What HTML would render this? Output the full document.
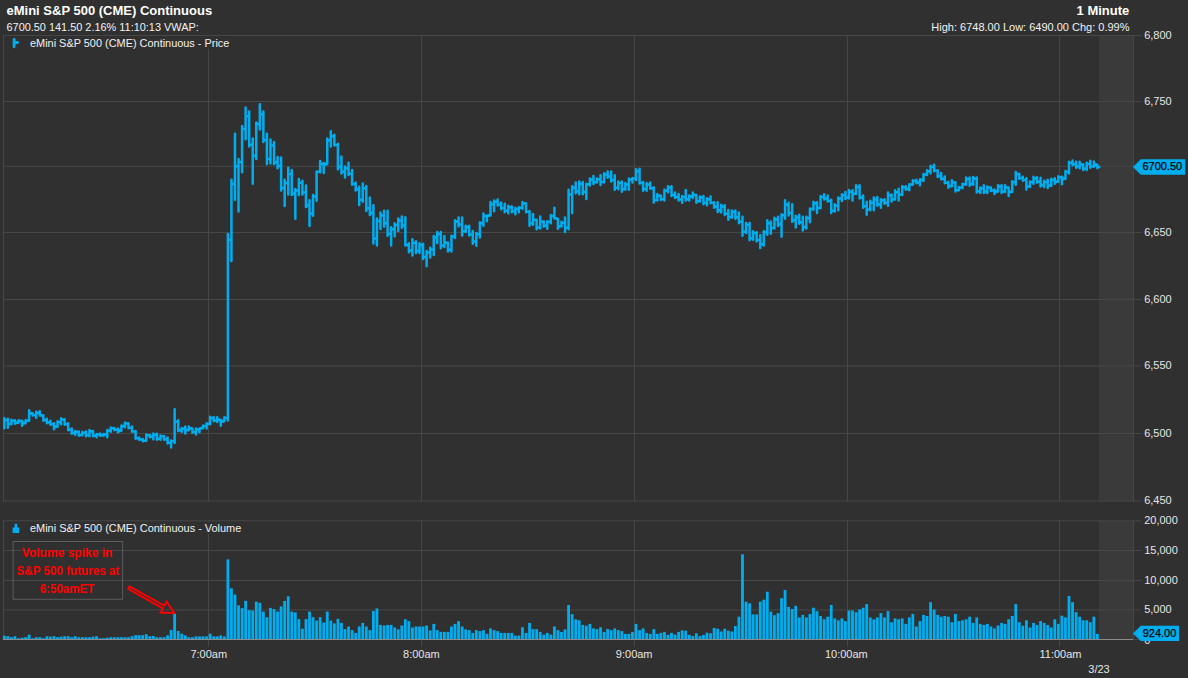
<!DOCTYPE html>
<html lang="en"><head><meta charset="utf-8"><title>eMini S&amp;P 500 (CME) Continuous</title>
<style>html,body{margin:0;padding:0;background:#303030;overflow:hidden}svg{display:block}text{font-family:"Liberation Sans", Arial, sans-serif}</style></head><body>
<svg width="1188" height="678" viewBox="0 0 1188 678">
<rect width="1188" height="678" fill="#303030"/>
<rect x="1099" y="36" width="34" height="465" fill="#3a3a3a"/>
<rect x="1099" y="521" width="34" height="118.5" fill="#3a3a3a"/>
<g stroke="#474747" stroke-width="1" fill="none">
<line x1="3" y1="35.5" x2="1141" y2="35.5"/>
<line x1="3" y1="101.5" x2="1141" y2="101.5"/>
<line x1="3" y1="166.3" x2="1141" y2="166.3"/>
<line x1="3" y1="232.5" x2="1141" y2="232.5"/>
<line x1="3" y1="299.5" x2="1141" y2="299.5"/>
<line x1="3" y1="366.0" x2="1141" y2="366.0"/>
<line x1="3" y1="433.5" x2="1141" y2="433.5"/>
<line x1="3" y1="501.0" x2="1141" y2="501.0"/>
<line x1="208.5" y1="35.5" x2="208.5" y2="501"/>
<line x1="208.5" y1="520.5" x2="208.5" y2="646.3"/>
<line x1="421.5" y1="35.5" x2="421.5" y2="501"/>
<line x1="421.5" y1="520.5" x2="421.5" y2="646.3"/>
<line x1="634.5" y1="35.5" x2="634.5" y2="501"/>
<line x1="634.5" y1="520.5" x2="634.5" y2="646.3"/>
<line x1="847.5" y1="35.5" x2="847.5" y2="501"/>
<line x1="847.5" y1="520.5" x2="847.5" y2="646.3"/>
<line x1="1059.5" y1="35.5" x2="1059.5" y2="501"/>
<line x1="1059.5" y1="520.5" x2="1059.5" y2="646.3"/>
<line x1="1133" y1="639.5" x2="1141" y2="639.5"/>
<line x1="3" y1="520.8" x2="1141" y2="520.8"/>
<line x1="3" y1="550.5" x2="1141" y2="550.5"/>
<line x1="3" y1="580.5" x2="1141" y2="580.5"/>
<line x1="3" y1="609.9" x2="1141" y2="609.9"/>
<line x1="3.5" y1="35" x2="3.5" y2="501.8"/>
<line x1="1133.5" y1="35" x2="1133.5" y2="501.8"/>
<line x1="3.5" y1="520.3" x2="3.5" y2="640"/>
<line x1="1133.5" y1="520.3" x2="1133.5" y2="640"/>
</g>
<g fill="#00aeef">
<rect x="2.90" y="635.70" width="2.8" height="3.50"/>
<rect x="6.45" y="636.20" width="2.8" height="3.00"/>
<rect x="10.00" y="637.20" width="2.8" height="2.00"/>
<rect x="13.55" y="636.20" width="2.8" height="3.00"/>
<rect x="17.10" y="638.20" width="2.8" height="1.00"/>
<rect x="20.65" y="637.70" width="2.8" height="1.50"/>
<rect x="24.19" y="637.20" width="2.8" height="2.00"/>
<rect x="27.74" y="634.70" width="2.8" height="4.50"/>
<rect x="31.29" y="638.20" width="2.8" height="1.00"/>
<rect x="34.84" y="637.20" width="2.8" height="2.00"/>
<rect x="38.39" y="637.20" width="2.8" height="2.00"/>
<rect x="41.94" y="638.20" width="2.8" height="1.00"/>
<rect x="45.49" y="636.20" width="2.8" height="3.00"/>
<rect x="49.04" y="636.70" width="2.8" height="2.50"/>
<rect x="52.59" y="636.20" width="2.8" height="3.00"/>
<rect x="56.13" y="637.20" width="2.8" height="2.00"/>
<rect x="59.68" y="636.70" width="2.8" height="2.50"/>
<rect x="63.23" y="636.20" width="2.8" height="3.00"/>
<rect x="66.78" y="636.20" width="2.8" height="3.00"/>
<rect x="70.33" y="637.20" width="2.8" height="2.00"/>
<rect x="73.88" y="636.20" width="2.8" height="3.00"/>
<rect x="77.43" y="637.20" width="2.8" height="2.00"/>
<rect x="80.98" y="637.20" width="2.8" height="2.00"/>
<rect x="84.53" y="637.20" width="2.8" height="2.00"/>
<rect x="88.08" y="637.20" width="2.8" height="2.00"/>
<rect x="91.62" y="636.70" width="2.8" height="2.50"/>
<rect x="95.17" y="636.20" width="2.8" height="3.00"/>
<rect x="98.72" y="638.20" width="2.8" height="1.00"/>
<rect x="102.27" y="638.20" width="2.8" height="1.00"/>
<rect x="105.82" y="637.70" width="2.8" height="1.50"/>
<rect x="109.37" y="637.20" width="2.8" height="2.00"/>
<rect x="112.92" y="637.20" width="2.8" height="2.00"/>
<rect x="116.47" y="637.20" width="2.8" height="2.00"/>
<rect x="120.02" y="637.20" width="2.8" height="2.00"/>
<rect x="123.57" y="637.20" width="2.8" height="2.00"/>
<rect x="127.12" y="637.20" width="2.8" height="2.00"/>
<rect x="130.66" y="636.20" width="2.8" height="3.00"/>
<rect x="134.21" y="635.20" width="2.8" height="4.00"/>
<rect x="137.76" y="635.20" width="2.8" height="4.00"/>
<rect x="141.31" y="635.20" width="2.8" height="4.00"/>
<rect x="144.86" y="634.20" width="2.8" height="5.00"/>
<rect x="148.41" y="636.20" width="2.8" height="3.00"/>
<rect x="151.96" y="636.00" width="2.8" height="3.20"/>
<rect x="155.51" y="637.20" width="2.8" height="2.00"/>
<rect x="159.06" y="637.20" width="2.8" height="2.00"/>
<rect x="162.60" y="637.20" width="2.8" height="2.00"/>
<rect x="166.15" y="635.40" width="2.8" height="3.80"/>
<rect x="169.70" y="629.90" width="2.8" height="9.30"/>
<rect x="173.25" y="613.90" width="2.8" height="25.30"/>
<rect x="176.80" y="630.90" width="2.8" height="8.30"/>
<rect x="180.35" y="633.70" width="2.8" height="5.50"/>
<rect x="183.90" y="635.40" width="2.8" height="3.80"/>
<rect x="187.45" y="637.20" width="2.8" height="2.00"/>
<rect x="191.00" y="637.20" width="2.8" height="2.00"/>
<rect x="194.55" y="636.40" width="2.8" height="2.80"/>
<rect x="198.09" y="636.40" width="2.8" height="2.80"/>
<rect x="201.64" y="636.40" width="2.8" height="2.80"/>
<rect x="205.19" y="636.40" width="2.8" height="2.80"/>
<rect x="208.74" y="633.70" width="2.8" height="5.50"/>
<rect x="212.29" y="636.40" width="2.8" height="2.80"/>
<rect x="215.84" y="636.40" width="2.8" height="2.80"/>
<rect x="219.39" y="635.40" width="2.8" height="3.80"/>
<rect x="222.94" y="636.40" width="2.8" height="2.80"/>
<rect x="226.49" y="559.40" width="2.8" height="79.80"/>
<rect x="230.04" y="588.40" width="2.8" height="50.80"/>
<rect x="233.59" y="594.60" width="2.8" height="44.60"/>
<rect x="237.13" y="605.40" width="2.8" height="33.80"/>
<rect x="240.68" y="608.20" width="2.8" height="31.00"/>
<rect x="244.23" y="600.80" width="2.8" height="38.40"/>
<rect x="247.78" y="610.10" width="2.8" height="29.10"/>
<rect x="251.33" y="610.50" width="2.8" height="28.70"/>
<rect x="254.88" y="601.70" width="2.8" height="37.50"/>
<rect x="258.43" y="602.80" width="2.8" height="36.40"/>
<rect x="261.98" y="611.60" width="2.8" height="27.60"/>
<rect x="265.53" y="617.20" width="2.8" height="22.00"/>
<rect x="269.08" y="607.90" width="2.8" height="31.30"/>
<rect x="272.62" y="609.00" width="2.8" height="30.20"/>
<rect x="276.17" y="611.60" width="2.8" height="27.60"/>
<rect x="279.72" y="606.40" width="2.8" height="32.80"/>
<rect x="283.27" y="600.90" width="2.8" height="38.30"/>
<rect x="286.82" y="596.30" width="2.8" height="42.90"/>
<rect x="290.37" y="611.60" width="2.8" height="27.60"/>
<rect x="293.92" y="612.40" width="2.8" height="26.80"/>
<rect x="297.47" y="619.10" width="2.8" height="20.10"/>
<rect x="301.02" y="628.70" width="2.8" height="10.50"/>
<rect x="304.57" y="619.10" width="2.8" height="20.10"/>
<rect x="308.11" y="611.60" width="2.8" height="27.60"/>
<rect x="311.66" y="617.20" width="2.8" height="22.00"/>
<rect x="315.21" y="620.60" width="2.8" height="18.60"/>
<rect x="318.76" y="617.20" width="2.8" height="22.00"/>
<rect x="322.31" y="622.50" width="2.8" height="16.70"/>
<rect x="325.86" y="611.60" width="2.8" height="27.60"/>
<rect x="329.41" y="620.60" width="2.8" height="18.60"/>
<rect x="332.96" y="623.40" width="2.8" height="15.80"/>
<rect x="336.51" y="618.80" width="2.8" height="20.40"/>
<rect x="340.06" y="622.90" width="2.8" height="16.30"/>
<rect x="343.60" y="629.10" width="2.8" height="10.10"/>
<rect x="347.15" y="626.50" width="2.8" height="12.70"/>
<rect x="350.70" y="630.10" width="2.8" height="9.10"/>
<rect x="354.25" y="632.90" width="2.8" height="6.30"/>
<rect x="357.80" y="626.50" width="2.8" height="12.70"/>
<rect x="361.35" y="622.90" width="2.8" height="16.30"/>
<rect x="364.90" y="626.50" width="2.8" height="12.70"/>
<rect x="368.45" y="630.10" width="2.8" height="9.10"/>
<rect x="372.00" y="611.00" width="2.8" height="28.20"/>
<rect x="375.55" y="608.40" width="2.8" height="30.80"/>
<rect x="379.09" y="624.90" width="2.8" height="14.30"/>
<rect x="382.64" y="625.50" width="2.8" height="13.70"/>
<rect x="386.19" y="624.90" width="2.8" height="14.30"/>
<rect x="389.74" y="624.90" width="2.8" height="14.30"/>
<rect x="393.29" y="627.50" width="2.8" height="11.70"/>
<rect x="396.84" y="629.40" width="2.8" height="9.80"/>
<rect x="400.39" y="625.50" width="2.8" height="13.70"/>
<rect x="403.94" y="619.30" width="2.8" height="19.90"/>
<rect x="407.49" y="621.10" width="2.8" height="18.10"/>
<rect x="411.04" y="627.50" width="2.8" height="11.70"/>
<rect x="414.58" y="626.50" width="2.8" height="12.70"/>
<rect x="418.13" y="626.50" width="2.8" height="12.70"/>
<rect x="421.68" y="626.50" width="2.8" height="12.70"/>
<rect x="425.23" y="625.50" width="2.8" height="13.70"/>
<rect x="428.78" y="630.40" width="2.8" height="8.80"/>
<rect x="432.33" y="623.90" width="2.8" height="15.30"/>
<rect x="435.88" y="630.10" width="2.8" height="9.10"/>
<rect x="439.43" y="631.90" width="2.8" height="7.30"/>
<rect x="442.98" y="631.90" width="2.8" height="7.30"/>
<rect x="446.53" y="631.90" width="2.8" height="7.30"/>
<rect x="450.07" y="626.50" width="2.8" height="12.70"/>
<rect x="453.62" y="623.90" width="2.8" height="15.30"/>
<rect x="457.17" y="621.10" width="2.8" height="18.10"/>
<rect x="460.72" y="626.50" width="2.8" height="12.70"/>
<rect x="464.27" y="629.40" width="2.8" height="9.80"/>
<rect x="467.82" y="630.10" width="2.8" height="9.10"/>
<rect x="471.37" y="632.90" width="2.8" height="6.30"/>
<rect x="474.92" y="630.10" width="2.8" height="9.10"/>
<rect x="478.47" y="631.10" width="2.8" height="8.10"/>
<rect x="482.02" y="630.10" width="2.8" height="9.10"/>
<rect x="485.56" y="633.90" width="2.8" height="5.30"/>
<rect x="489.11" y="628.40" width="2.8" height="10.80"/>
<rect x="492.66" y="630.10" width="2.8" height="9.10"/>
<rect x="496.21" y="631.10" width="2.8" height="8.10"/>
<rect x="499.76" y="632.90" width="2.8" height="6.30"/>
<rect x="503.31" y="632.90" width="2.8" height="6.30"/>
<rect x="506.86" y="632.90" width="2.8" height="6.30"/>
<rect x="510.41" y="632.90" width="2.8" height="6.30"/>
<rect x="513.96" y="635.60" width="2.8" height="3.60"/>
<rect x="517.50" y="635.60" width="2.8" height="3.60"/>
<rect x="521.05" y="627.30" width="2.8" height="11.90"/>
<rect x="524.60" y="632.90" width="2.8" height="6.30"/>
<rect x="528.15" y="622.90" width="2.8" height="16.30"/>
<rect x="531.70" y="629.10" width="2.8" height="10.10"/>
<rect x="535.25" y="629.10" width="2.8" height="10.10"/>
<rect x="538.80" y="631.90" width="2.8" height="7.30"/>
<rect x="542.35" y="634.60" width="2.8" height="4.60"/>
<rect x="545.90" y="632.90" width="2.8" height="6.30"/>
<rect x="549.45" y="634.60" width="2.8" height="4.60"/>
<rect x="553.00" y="626.50" width="2.8" height="12.70"/>
<rect x="556.54" y="630.10" width="2.8" height="9.10"/>
<rect x="560.09" y="631.90" width="2.8" height="7.30"/>
<rect x="563.64" y="629.40" width="2.8" height="9.80"/>
<rect x="567.19" y="605.00" width="2.8" height="34.20"/>
<rect x="570.74" y="614.10" width="2.8" height="25.10"/>
<rect x="574.29" y="619.30" width="2.8" height="19.90"/>
<rect x="577.84" y="620.30" width="2.8" height="18.90"/>
<rect x="581.39" y="624.90" width="2.8" height="14.30"/>
<rect x="584.94" y="625.70" width="2.8" height="13.50"/>
<rect x="588.49" y="623.90" width="2.8" height="15.30"/>
<rect x="592.03" y="628.40" width="2.8" height="10.80"/>
<rect x="595.58" y="629.10" width="2.8" height="10.10"/>
<rect x="599.13" y="627.30" width="2.8" height="11.90"/>
<rect x="602.68" y="631.90" width="2.8" height="7.30"/>
<rect x="606.23" y="629.10" width="2.8" height="10.10"/>
<rect x="609.78" y="630.10" width="2.8" height="9.10"/>
<rect x="613.33" y="628.40" width="2.8" height="10.80"/>
<rect x="616.88" y="630.10" width="2.8" height="9.10"/>
<rect x="620.43" y="631.10" width="2.8" height="8.10"/>
<rect x="623.97" y="633.90" width="2.8" height="5.30"/>
<rect x="627.52" y="633.90" width="2.8" height="5.30"/>
<rect x="631.07" y="631.90" width="2.8" height="7.30"/>
<rect x="634.62" y="623.90" width="2.8" height="15.30"/>
<rect x="638.17" y="630.10" width="2.8" height="9.10"/>
<rect x="641.72" y="628.40" width="2.8" height="10.80"/>
<rect x="645.27" y="632.90" width="2.8" height="6.30"/>
<rect x="648.82" y="633.90" width="2.8" height="5.30"/>
<rect x="652.37" y="629.10" width="2.8" height="10.10"/>
<rect x="655.92" y="633.90" width="2.8" height="5.30"/>
<rect x="659.46" y="632.90" width="2.8" height="6.30"/>
<rect x="663.01" y="631.90" width="2.8" height="7.30"/>
<rect x="666.56" y="634.80" width="2.8" height="4.40"/>
<rect x="670.11" y="632.90" width="2.8" height="6.30"/>
<rect x="673.66" y="634.60" width="2.8" height="4.60"/>
<rect x="677.21" y="631.90" width="2.8" height="7.30"/>
<rect x="680.76" y="630.40" width="2.8" height="8.80"/>
<rect x="684.31" y="630.70" width="2.8" height="8.50"/>
<rect x="687.86" y="634.90" width="2.8" height="4.30"/>
<rect x="691.41" y="636.10" width="2.8" height="3.10"/>
<rect x="694.95" y="633.30" width="2.8" height="5.90"/>
<rect x="698.50" y="636.10" width="2.8" height="3.10"/>
<rect x="702.05" y="634.90" width="2.8" height="4.30"/>
<rect x="705.60" y="632.70" width="2.8" height="6.50"/>
<rect x="709.15" y="633.30" width="2.8" height="5.90"/>
<rect x="712.70" y="628.00" width="2.8" height="11.20"/>
<rect x="716.25" y="628.70" width="2.8" height="10.50"/>
<rect x="719.80" y="631.50" width="2.8" height="7.70"/>
<rect x="723.35" y="628.70" width="2.8" height="10.50"/>
<rect x="726.90" y="630.70" width="2.8" height="8.50"/>
<rect x="730.44" y="631.50" width="2.8" height="7.70"/>
<rect x="733.99" y="626.00" width="2.8" height="13.20"/>
<rect x="737.54" y="616.70" width="2.8" height="22.50"/>
<rect x="741.09" y="554.30" width="2.8" height="84.90"/>
<rect x="744.64" y="601.70" width="2.8" height="37.50"/>
<rect x="748.19" y="603.30" width="2.8" height="35.90"/>
<rect x="751.74" y="614.40" width="2.8" height="24.80"/>
<rect x="755.29" y="614.40" width="2.8" height="24.80"/>
<rect x="758.84" y="601.70" width="2.8" height="37.50"/>
<rect x="762.39" y="599.70" width="2.8" height="39.50"/>
<rect x="765.93" y="591.70" width="2.8" height="47.50"/>
<rect x="769.48" y="611.60" width="2.8" height="27.60"/>
<rect x="773.03" y="615.20" width="2.8" height="24.00"/>
<rect x="776.58" y="613.20" width="2.8" height="26.00"/>
<rect x="780.13" y="598.20" width="2.8" height="41.00"/>
<rect x="783.68" y="590.00" width="2.8" height="49.20"/>
<rect x="787.23" y="607.00" width="2.8" height="32.20"/>
<rect x="790.78" y="609.00" width="2.8" height="30.20"/>
<rect x="794.33" y="605.80" width="2.8" height="33.40"/>
<rect x="797.88" y="617.40" width="2.8" height="21.80"/>
<rect x="801.42" y="614.90" width="2.8" height="24.30"/>
<rect x="804.97" y="617.40" width="2.8" height="21.80"/>
<rect x="808.52" y="613.90" width="2.8" height="25.30"/>
<rect x="812.07" y="607.70" width="2.8" height="31.50"/>
<rect x="815.62" y="611.20" width="2.8" height="28.00"/>
<rect x="819.17" y="616.00" width="2.8" height="23.20"/>
<rect x="822.72" y="619.30" width="2.8" height="19.90"/>
<rect x="826.27" y="616.70" width="2.8" height="22.50"/>
<rect x="829.82" y="605.00" width="2.8" height="34.20"/>
<rect x="833.37" y="618.40" width="2.8" height="20.80"/>
<rect x="836.91" y="620.30" width="2.8" height="18.90"/>
<rect x="840.46" y="618.40" width="2.8" height="20.80"/>
<rect x="844.01" y="621.10" width="2.8" height="18.10"/>
<rect x="847.56" y="610.50" width="2.8" height="28.70"/>
<rect x="851.11" y="610.50" width="2.8" height="28.70"/>
<rect x="854.66" y="612.20" width="2.8" height="27.00"/>
<rect x="858.21" y="609.50" width="2.8" height="29.70"/>
<rect x="861.76" y="607.70" width="2.8" height="31.50"/>
<rect x="865.31" y="604.10" width="2.8" height="35.10"/>
<rect x="868.86" y="617.40" width="2.8" height="21.80"/>
<rect x="872.40" y="619.30" width="2.8" height="19.90"/>
<rect x="875.95" y="617.40" width="2.8" height="21.80"/>
<rect x="879.50" y="613.10" width="2.8" height="26.10"/>
<rect x="883.05" y="617.40" width="2.8" height="21.80"/>
<rect x="886.60" y="611.20" width="2.8" height="28.00"/>
<rect x="890.15" y="622.20" width="2.8" height="17.00"/>
<rect x="893.70" y="618.40" width="2.8" height="20.80"/>
<rect x="897.25" y="619.30" width="2.8" height="19.90"/>
<rect x="900.80" y="618.40" width="2.8" height="20.80"/>
<rect x="904.35" y="623.90" width="2.8" height="15.30"/>
<rect x="907.89" y="617.40" width="2.8" height="21.80"/>
<rect x="911.44" y="613.90" width="2.8" height="25.30"/>
<rect x="914.99" y="626.50" width="2.8" height="12.70"/>
<rect x="918.54" y="621.10" width="2.8" height="18.10"/>
<rect x="922.09" y="614.90" width="2.8" height="24.30"/>
<rect x="925.64" y="616.00" width="2.8" height="23.20"/>
<rect x="929.19" y="602.20" width="2.8" height="37.00"/>
<rect x="932.74" y="609.50" width="2.8" height="29.70"/>
<rect x="936.29" y="614.90" width="2.8" height="24.30"/>
<rect x="939.84" y="616.70" width="2.8" height="22.50"/>
<rect x="943.38" y="616.00" width="2.8" height="23.20"/>
<rect x="946.93" y="616.70" width="2.8" height="22.50"/>
<rect x="950.48" y="622.20" width="2.8" height="17.00"/>
<rect x="954.03" y="613.90" width="2.8" height="25.30"/>
<rect x="957.58" y="621.10" width="2.8" height="18.10"/>
<rect x="961.13" y="620.30" width="2.8" height="18.90"/>
<rect x="964.68" y="619.30" width="2.8" height="19.90"/>
<rect x="968.23" y="616.70" width="2.8" height="22.50"/>
<rect x="971.78" y="622.90" width="2.8" height="16.30"/>
<rect x="975.33" y="617.40" width="2.8" height="21.80"/>
<rect x="978.88" y="623.90" width="2.8" height="15.30"/>
<rect x="982.42" y="624.90" width="2.8" height="14.30"/>
<rect x="985.97" y="623.90" width="2.8" height="15.30"/>
<rect x="989.52" y="626.50" width="2.8" height="12.70"/>
<rect x="993.07" y="628.40" width="2.8" height="10.80"/>
<rect x="996.62" y="625.50" width="2.8" height="13.70"/>
<rect x="1000.17" y="622.90" width="2.8" height="16.30"/>
<rect x="1003.72" y="623.90" width="2.8" height="15.30"/>
<rect x="1007.27" y="619.30" width="2.8" height="19.90"/>
<rect x="1010.82" y="616.00" width="2.8" height="23.20"/>
<rect x="1014.37" y="604.10" width="2.8" height="35.10"/>
<rect x="1017.91" y="622.20" width="2.8" height="17.00"/>
<rect x="1021.46" y="625.70" width="2.8" height="13.50"/>
<rect x="1025.01" y="620.30" width="2.8" height="18.90"/>
<rect x="1028.56" y="627.50" width="2.8" height="11.70"/>
<rect x="1032.11" y="622.90" width="2.8" height="16.30"/>
<rect x="1035.66" y="624.90" width="2.8" height="14.30"/>
<rect x="1039.21" y="621.10" width="2.8" height="18.10"/>
<rect x="1042.76" y="622.90" width="2.8" height="16.30"/>
<rect x="1046.31" y="624.90" width="2.8" height="14.30"/>
<rect x="1049.85" y="627.50" width="2.8" height="11.70"/>
<rect x="1053.40" y="619.30" width="2.8" height="19.90"/>
<rect x="1056.95" y="623.90" width="2.8" height="15.30"/>
<rect x="1060.50" y="615.70" width="2.8" height="23.50"/>
<rect x="1064.05" y="617.40" width="2.8" height="21.80"/>
<rect x="1067.60" y="596.00" width="2.8" height="43.20"/>
<rect x="1071.15" y="602.20" width="2.8" height="37.00"/>
<rect x="1074.70" y="612.20" width="2.8" height="27.00"/>
<rect x="1078.25" y="616.70" width="2.8" height="22.50"/>
<rect x="1081.80" y="620.30" width="2.8" height="18.90"/>
<rect x="1085.34" y="620.30" width="2.8" height="18.90"/>
<rect x="1088.89" y="622.20" width="2.8" height="17.00"/>
<rect x="1092.44" y="616.70" width="2.8" height="22.50"/>
<rect x="1095.99" y="633.90" width="2.8" height="5.30"/>
</g>
<line x1="3" y1="639.5" x2="1133" y2="639.5" stroke="#8c8c8c" stroke-width="1"/>
<path d="M4.30 418.32V428.24M4.30 420.31H6.20M7.85 418.83V427.74M5.95 420.31H7.85M7.85 424.01H9.75M11.40 419.84V424.20M9.50 424.00H11.40M11.40 420.71H13.30M14.95 420.34V423.70M13.05 420.71H14.95M14.95 423.03H16.85M18.50 420.34V422.69M16.60 422.49H18.50M18.50 420.81H20.40M22.05 420.85V425.72M20.15 421.05H22.05M22.05 423.60H23.95M25.59 420.34V423.19M23.69 422.99H25.59M25.59 420.63H27.49M29.14 410.24V420.67M27.24 420.47H29.14M29.14 413.08H31.04M32.69 413.27V415.62M30.79 413.47H32.69M32.69 415.15H34.59M36.24 411.76V417.64M34.34 415.15H36.24M36.24 412.75H38.14M39.79 411.25V415.62M37.89 412.75H39.79M39.79 415.33H41.69M43.34 415.29V420.67M41.44 415.49H43.34M43.34 420.08H45.24M46.89 418.83V423.19M44.99 420.08H46.89M46.89 422.50H48.79M50.44 420.85V424.71M48.54 422.50H50.44M50.44 424.22H52.34M53.99 423.37V429.25M52.09 424.22H53.99M53.99 426.94H55.89M57.53 421.35V426.73M55.63 426.53H57.53M57.53 422.14H59.43M61.08 418.32V424.20M59.18 422.14H61.08M61.08 419.50H62.98M64.63 419.33V424.71M62.73 419.53H64.63M64.63 424.22H66.53M68.18 423.37V430.26M66.28 424.22H68.18M68.18 429.68H70.08M71.73 428.42V433.80M69.83 429.68H71.73M71.73 433.01H73.63M75.28 430.95V434.81M73.38 433.01H75.28M75.28 431.72H77.18M78.83 431.45V435.82M76.93 431.72H78.83M78.83 434.95H80.73M82.38 431.96V435.31M80.48 434.95H82.38M82.38 432.63H84.28M85.93 431.45V436.32M84.03 432.63H85.93M85.93 435.35H87.83M89.48 429.94V436.32M87.58 435.35H89.48M89.48 431.22H91.38M93.02 430.95V436.32M91.12 431.22H93.02M93.02 435.64H94.92M96.57 433.98V437.33M94.67 435.64H96.57M96.57 434.57H98.47M100.12 433.47V435.82M98.22 434.57H100.12M100.12 435.35H102.02M103.67 433.98V435.82M101.77 435.35H103.67M103.67 434.35H105.57M107.22 429.94V437.33M105.32 434.35H107.22M107.22 430.53H109.12M110.77 427.41V431.78M108.87 430.53H110.77M110.77 428.20H112.67M114.32 427.92V430.26M112.42 428.20H114.32M114.32 429.79H116.22M117.87 428.42V432.28M115.97 429.79H117.87M117.87 431.18H119.77M121.42 425.39V430.77M119.52 430.57H121.42M121.42 425.98H123.32M124.97 422.56V427.23M123.07 425.98H124.97M124.97 423.50H126.87M128.52 423.37V428.24M126.62 423.57H128.52M128.52 427.66H130.42M132.06 426.40V431.78M130.16 427.66H132.06M132.06 431.39H133.96M135.61 430.95V438.85M133.71 431.39H135.61M135.61 438.36H137.51M139.16 437.51V439.86M137.26 438.36H139.16M139.16 439.47H141.06M142.71 439.03V441.17M140.81 439.47H142.71M142.71 440.74H144.61M146.26 434.48V440.87M144.36 440.67H146.26M146.26 435.27H148.16M149.81 434.99V437.33M147.91 435.27H149.81M149.81 436.87H151.71M153.36 433.47V439.35M151.46 436.87H153.36M153.36 434.65H155.26M156.91 433.68V439.86M155.01 434.65H156.91M156.91 438.77H158.81M160.46 435.49V439.86M158.56 438.77H160.46M160.46 436.37H162.36M164.00 436.00V439.86M162.10 436.37H164.00M164.00 439.17H165.91M167.55 437.51V443.60M165.65 439.17H167.55M167.55 442.77H169.45M171.10 440.54V447.44M169.20 442.77H171.10M171.10 441.23H173.00M174.65 409.23V442.89M172.75 441.23H174.65M174.65 421.83H176.55M178.20 420.34V431.07M176.30 421.83H178.20M178.20 430.22H180.10M181.75 427.92V431.78M179.85 430.22H181.75M181.75 428.69H183.65M185.30 426.40V433.50M183.40 428.69H185.30M185.30 430.37H187.20M188.85 426.40V430.26M186.95 430.06H188.85M188.85 427.91H190.75M192.40 428.42V432.79M190.50 428.62H192.40M192.40 431.92H194.30M195.95 428.42V434.51M194.05 431.92H195.95M195.95 429.42H197.85M199.50 428.42V432.28M197.59 429.42H199.50M199.50 428.62H201.40M203.04 425.39V428.24M201.14 428.04H203.04M203.04 425.96H204.94M206.59 423.37V428.45M204.69 425.96H206.59M206.59 423.76H208.49M210.14 416.81V424.20M208.24 423.76H210.14M210.14 417.90H212.04M213.69 417.31V421.17M211.79 417.90H213.69M213.69 420.40H215.59M217.24 417.31V421.98M215.34 420.40H217.24M217.24 419.39H219.14M220.79 419.84V425.72M218.89 420.04H220.79M220.79 421.79H222.69M224.34 417.31V421.17M222.44 420.97H224.34M224.34 418.08H226.24M227.89 234.10V420.40M225.99 418.08H227.89M227.89 239.68H229.79M231.44 179.70V260.90M229.54 239.68H231.44M231.44 183.92H233.34M234.99 133.80V199.70M233.09 183.92H234.99M234.99 166.34H236.89M238.53 159.10V211.60M236.63 166.34H238.53M238.53 161.96H240.43M242.08 126.10V172.30M240.18 161.96H242.08M242.08 128.96H243.98M245.63 107.50V139.30M243.73 128.96H245.63M245.63 116.26H247.53M249.18 111.60V146.60M247.28 116.26H249.18M249.18 144.74H251.08M252.73 138.40V183.70M250.83 144.74H252.73M252.73 155.68H254.63M256.28 122.40V158.90M254.38 155.68H256.28M256.28 124.04H258.18M259.83 104.20V129.50M257.93 124.04H259.83M259.83 114.30H261.73M263.38 111.60V141.90M261.48 114.30H263.38M263.38 140.06H265.28M266.93 133.80V164.10M265.03 140.06H266.93M266.93 158.96H268.83M270.48 139.50V163.50M268.58 158.96H270.48M270.48 145.50H272.38M274.02 142.10V163.90M272.12 145.50H274.02M274.02 162.32H275.92M277.57 157.10V168.20M275.67 162.32H277.57M277.57 165.98H279.47M281.12 157.50V190.40M279.22 165.98H281.12M281.12 188.04H283.02M284.67 179.70V205.90M282.77 188.04H284.67M284.67 182.88H286.57M288.22 167.80V194.50M286.32 182.88H288.22M288.22 173.94H290.12M291.77 169.90V195.00M289.87 173.94H291.77M291.77 193.58H293.67M295.32 189.00V218.80M293.42 193.58H295.32M295.32 190.42H297.22M298.87 179.10V195.00M296.97 190.42H298.87M298.87 182.68H300.77M302.42 180.70V194.50M300.52 182.68H302.42M302.42 192.46H304.32M305.97 185.40V206.90M304.07 192.46H305.97M305.97 205.36H307.87M309.51 200.30V226.00M307.61 205.36H309.51M309.51 213.50H311.41M313.06 195.10V215.70M311.16 213.50H313.06M313.06 196.44H314.96M316.61 171.40V200.70M314.71 196.44H316.61M316.61 171.80H318.51M320.16 161.10V172.30M318.26 171.80H320.16M320.16 164.06H322.06M323.71 163.10V172.90M321.81 164.06H323.71M323.71 164.78H325.61M327.26 138.40V164.10M325.36 163.90H327.26M327.26 140.26H329.16M330.81 131.20V146.60M328.91 140.26H330.81M330.81 136.28H332.71M334.36 134.80V145.50M332.46 136.28H334.36M334.36 144.92H336.26M337.91 143.70V169.30M336.01 144.92H337.91M337.91 166.54H339.81M341.45 156.60V173.50M339.56 166.54H341.45M341.45 171.86H343.35M345.00 166.40V177.60M343.10 171.86H345.00M345.00 168.34H346.90M348.55 162.80V175.00M346.65 168.34H348.55M348.55 173.78H350.45M352.10 170.00V184.80M350.20 173.78H352.10M352.10 184.10H354.00M355.65 182.40V190.50M353.75 184.10H355.65M355.65 189.54H357.55M359.20 186.80V205.10M357.30 189.54H359.20M359.20 199.68H361.10M362.75 183.40V201.80M360.85 199.68H362.75M362.75 188.28H364.65M366.30 186.00V211.10M364.40 188.28H366.30M366.30 208.14H368.20M369.85 197.40V215.10M367.95 208.14H369.85M369.85 212.92H371.75M373.40 205.30V243.60M371.50 212.92H373.40M373.40 238.38H375.30M376.94 218.60V245.60M375.05 238.38H376.94M376.94 220.90H378.84M380.49 212.60V229.00M378.59 220.90H380.49M380.49 215.58H382.39M384.04 210.70V226.40M382.14 215.58H384.04M384.04 223.26H385.94M387.59 210.70V235.70M385.69 223.26H387.59M387.59 233.80H389.49M391.14 227.30V245.60M389.24 233.80H391.14M391.14 229.32H393.04M394.69 223.30V236.30M392.79 229.32H394.69M394.69 225.06H396.59M398.24 218.60V231.00M396.34 225.06H398.24M398.24 220.64H400.14M401.79 216.60V227.70M399.89 220.64H401.79M401.79 225.48H403.69M405.34 217.30V245.60M403.44 225.48H405.34M405.34 244.90H407.24M408.89 243.20V252.30M406.99 244.90H408.89M408.89 250.48H410.79M412.44 239.20V255.60M410.54 250.48H412.44M412.44 242.88H414.33M415.98 241.20V252.90M414.08 242.88H415.98M415.98 250.74H417.88M419.53 243.20V252.90M417.63 250.74H419.53M419.53 245.14H421.43M423.08 243.80V258.90M421.18 245.14H423.08M423.08 257.12H424.98M426.63 251.10V266.20M424.73 257.12H426.63M426.63 252.62H428.53M430.18 247.80V257.60M428.28 252.62H430.18M430.18 249.44H432.08M433.73 235.90V254.90M431.83 249.44H433.73M433.73 237.54H435.63M437.28 231.90V243.00M435.38 237.54H437.28M437.28 234.12H439.18M440.83 231.90V248.30M438.93 234.12H440.83M440.83 245.44H442.73M444.38 235.90V247.00M442.48 245.44H444.38M444.38 242.52H446.28M447.93 242.50V251.60M446.03 242.70H447.93M447.93 249.78H449.82M451.47 235.67V251.54M449.57 249.78H451.47M451.47 236.38H453.37M455.02 220.18V238.12M453.12 236.38H455.02M455.02 221.61H456.92M458.57 217.60V226.24M456.67 221.61H458.57M458.57 224.51H460.47M462.12 217.60V235.54M460.22 224.51H462.12M462.12 231.37H464.02M465.67 225.86V231.92M463.77 231.37H465.67M465.67 227.07H467.57M469.22 225.86V235.54M467.32 227.07H469.22M469.22 234.41H471.12M472.77 231.02V243.80M470.87 234.41H472.77M472.77 241.44H474.67M476.32 233.09V245.66M474.42 241.44H476.32M476.32 234.21H478.22M479.87 222.25V237.60M477.97 234.21H479.87M479.87 223.16H481.77M483.42 213.47V225.73M481.52 223.16H483.42M483.42 216.02H485.31M486.96 215.53V221.29M485.06 216.02H486.96M486.96 215.73H488.86M490.51 202.11V215.40M488.61 215.20H490.51M490.51 204.16H492.41M494.06 200.56V211.27M492.16 204.16H494.06M494.06 201.78H495.96M497.61 199.53V205.59M495.71 201.78H497.61M497.61 204.77H499.51M501.16 202.62V209.20M499.26 204.77H501.16M501.16 207.89H503.06M504.71 203.66V212.30M502.81 207.89H504.71M504.71 210.76H506.61M508.26 205.72V213.33M506.36 210.76H508.26M508.26 207.24H510.16M511.81 206.24V212.30M509.91 207.24H511.81M511.81 211.18H513.71M515.36 207.79V214.37M513.46 211.18H515.36M515.36 208.91H517.26M518.90 207.27V212.30M517.00 208.91H518.90M518.90 207.77H520.80M522.45 202.11V208.69M520.55 207.77H522.45M522.45 203.42H524.35M526.00 203.14V212.30M524.10 203.42H526.00M526.00 211.80H527.90M529.55 210.89V225.73M527.65 211.80H529.55M529.55 223.16H531.45M533.10 213.98V224.69M531.20 223.16H533.10M533.10 219.79H535.00M536.65 219.66V229.34M534.75 219.86H536.65M536.65 227.41H538.55M540.20 216.57V228.51M538.30 227.41H540.20M540.20 221.66H542.10M543.75 221.21V226.76M541.85 221.66H543.75M543.75 225.65H545.65M547.30 221.21V228.82M545.40 225.65H547.30M547.30 221.82H549.20M550.85 215.02V223.14M548.95 221.82H550.85M550.85 215.93H552.75M554.39 207.79V218.50M552.50 215.93H554.39M554.39 218.30H556.29M557.94 218.63V228.82M556.04 218.83H557.94M557.94 226.16H559.84M561.49 221.73V226.45M559.59 226.16H561.49M561.49 222.67H563.39M565.04 217.60V231.92M563.14 222.67H565.04M565.04 227.84H566.94M568.59 189.70V229.30M566.69 227.84H568.59M568.59 194.57H570.49M572.14 186.21V212.93M570.24 194.57H572.14M572.14 187.85H574.04M575.69 182.60V193.31M573.79 187.85H575.69M575.69 191.17H577.59M579.24 181.57V194.34M577.34 191.17H579.24M579.24 184.12H581.14M582.79 182.08V194.34M580.89 184.12H582.79M582.79 191.98H584.69M586.34 183.63V198.99M584.44 191.98H586.34M586.34 184.24H588.24M589.88 178.47V185.56M587.99 184.24H589.88M589.88 179.80H591.78M593.43 175.89V184.01M591.53 179.80H593.43M593.43 182.32H595.33M596.98 178.47V182.46M595.08 182.26H596.98M596.98 179.27H598.88M600.53 175.37V185.05M598.63 179.27H600.53M600.53 181.93H602.43M604.08 173.30V182.46M602.18 181.93H604.08M604.08 174.43H605.98M607.63 171.55V177.82M605.73 174.43H607.63M607.63 176.56H609.53M611.18 171.55V181.43M609.28 176.56H611.18M611.18 180.00H613.08M614.73 175.37V189.69M612.83 180.00H614.73M614.73 187.85H616.63M618.28 181.57V189.18M616.38 187.85H618.28M618.28 183.09H620.18M621.83 181.57V191.76M619.93 183.09H621.83M621.83 189.04H623.73M625.37 183.11V189.69M623.47 189.04H625.37M625.37 184.43H627.27M628.92 178.47V189.69M627.02 184.43H628.92M628.92 179.49H630.82M632.47 177.95V182.46M630.57 179.49H632.47M632.47 178.56H634.37M636.02 169.17V179.88M634.12 178.56H636.02M636.02 171.31H637.92M639.57 168.66V183.50M637.67 171.31H639.57M639.57 182.99H641.47M643.12 182.08V190.73M641.22 182.99H643.12M643.12 189.00H645.02M646.67 183.11V190.73M644.77 189.00H646.67M646.67 184.44H648.57M650.22 182.60V188.66M648.32 184.44H650.22M650.22 188.16H652.12M653.77 187.25V202.60M651.87 188.16H653.77M653.77 199.88H655.67M657.32 193.96V200.54M655.42 199.88H657.32M657.32 195.63H659.22M660.86 195.51V200.02M658.96 195.71H660.86M660.86 199.12H662.76M664.41 189.83V200.54M662.51 199.12H664.41M664.41 190.54H666.31M667.96 186.21V192.27M666.06 190.54H667.96M667.96 187.43H669.86M671.51 186.21V195.89M669.61 187.43H671.51M671.51 194.97H673.41M675.06 192.41V197.96M673.16 194.97H675.06M675.06 196.94H676.96M678.61 193.96V200.54M676.71 196.94H678.61M678.61 199.42H680.51M682.16 196.07V202.65M680.26 199.42H682.16M682.16 197.20H684.06M685.71 189.88V200.59M683.81 197.20H685.71M685.71 199.36H687.61M689.26 195.56V200.59M687.36 199.36H689.26M689.26 196.27H691.16M692.81 192.46V198.01M690.91 196.27H692.81M692.81 194.75H694.71M696.35 195.04V202.65M694.45 195.24H696.35M696.35 201.22H698.25M699.90 196.59V201.62M698.00 201.22H699.90M699.90 197.60H701.80M703.45 196.07V204.20M701.55 197.60H703.45M703.45 202.77H705.35M707.00 198.14V205.23M705.10 202.77H707.00M707.00 199.37H708.90M710.55 196.59V203.17M708.65 199.37H710.55M710.55 202.77H712.45M714.10 202.27V207.82M712.20 202.77H714.10M714.10 206.71H716.00M717.65 202.27V211.95M715.75 206.71H717.65M717.65 210.31H719.55M721.20 204.85V212.46M719.30 210.31H721.20M721.20 206.38H723.10M724.75 205.37V215.05M722.85 206.38H724.75M724.75 213.82H726.65M728.30 210.02V219.69M726.40 213.82H728.30M728.30 216.99H730.20M731.84 210.53V217.63M729.94 216.99H731.84M731.84 211.95H733.74M735.39 210.53V218.66M733.49 211.95H735.39M735.39 217.23H737.29M738.94 212.60V223.31M737.04 217.23H738.94M738.94 221.77H740.84M742.49 216.73V235.70M740.59 221.77H742.49M742.49 231.74H744.39M746.04 222.93V233.12M744.14 231.74H746.04M746.04 224.96H747.94M749.59 222.93V240.35M747.69 224.96H749.59M749.59 238.30H751.49M753.14 231.19V239.83M751.24 238.30H753.14M753.14 232.92H755.04M756.69 232.22V241.38M754.79 232.92H756.69M756.69 239.95H758.59M760.24 235.32V248.09M758.34 239.95H760.24M760.24 244.35H762.14M763.79 231.19V245.51M761.89 244.35H763.79M763.79 232.10H765.69M767.33 220.34V234.67M765.43 232.10H767.33M767.33 223.21H769.23M770.88 221.38V233.64M768.98 223.21H770.88M770.88 227.93H772.78M774.43 217.76V228.47M772.53 227.93H774.43M774.43 219.61H776.33M777.98 216.73V225.89M776.08 219.61H777.98M777.98 224.06H779.88M781.53 214.15V236.73M779.63 224.06H781.53M781.53 215.27H783.43M785.08 200.21V218.66M783.18 215.27H785.08M785.08 204.68H786.98M788.63 202.79V215.56M786.73 204.68H788.63M788.63 213.10H790.53M792.18 204.34V221.76M790.28 213.10H792.18M792.18 220.32H794.08M795.73 215.67V227.41M793.83 220.32H795.73M795.73 217.52H797.63M799.28 214.64V223.80M797.38 217.52H799.28M799.28 222.16H801.18M802.82 216.70V230.51M800.92 222.16H802.82M802.82 226.98H804.72M806.37 216.70V228.45M804.47 226.98H806.37M806.37 218.03H808.27M809.92 208.44V222.25M808.02 218.03H809.92M809.92 208.95H811.82M813.47 201.73V209.86M811.57 208.95H813.47M813.47 203.35H815.37M817.02 202.25V212.96M815.12 203.35H817.02M817.02 207.98H818.92M820.57 196.05V208.31M818.67 207.98H820.57M820.57 196.97H822.47M824.12 194.19V199.53M822.22 196.97H824.12M824.12 198.51H826.02M827.67 195.53V201.59M825.77 198.51H827.67M827.67 200.99H829.57M831.22 199.66V212.96M829.32 200.99H831.22M831.22 210.65H833.12M834.77 204.31V211.41M832.87 210.65H834.77M834.77 205.73H836.67M838.31 197.60V210.37M836.41 205.73H838.31M838.31 198.51H840.21M841.86 194.19V201.08M839.96 198.51H841.86M841.86 195.37H843.76M845.41 192.12V199.01M843.51 195.37H845.41M845.41 197.64H847.31M848.96 190.06V198.50M847.06 197.64H848.96M848.96 191.75H850.86M852.51 190.37V200.56M850.61 191.75H852.51M852.51 194.03H854.41M856.06 185.21V193.85M854.16 193.65H856.06M856.06 186.93H857.96M859.61 185.21V198.50M857.71 186.93H859.61M859.61 197.68H861.51M863.16 195.53V207.79M861.26 197.68H863.16M863.16 206.36H865.06M866.71 201.73V214.71M864.81 206.36H866.71M866.71 209.52H868.61M870.26 200.70V210.37M868.36 209.52H870.26M870.26 202.63H872.16M873.80 197.60V210.37M871.90 202.63H873.80M873.80 199.44H875.70M877.35 197.08V205.73M875.45 199.44H877.35M877.35 204.19H879.25M880.90 199.15V207.79M879.00 204.19H880.90M880.90 200.27H882.80M884.45 199.15V203.66M882.55 200.27H884.45M884.45 202.76H886.35M888.00 192.43V205.73M886.10 202.76H888.00M888.00 195.26H889.90M891.55 194.50V201.59M889.65 195.26H891.55M891.55 199.40H893.45M895.10 190.37V199.53M893.20 199.33H895.10M895.10 192.20H897.00M898.65 188.82V200.56M896.75 192.20H898.65M898.65 194.55H900.55M902.20 186.24V194.88M900.30 194.55H902.20M902.20 187.15H904.10M905.75 186.24V189.72M903.85 187.15H905.75M905.75 189.02H907.65M909.29 184.31V190.37M907.39 189.02H909.29M909.29 184.61H911.19M912.84 180.18V184.69M910.94 184.49H912.84M912.84 180.99H914.74M916.39 179.66V183.14M914.49 180.99H916.39M916.39 182.45H918.29M919.94 179.15V185.21M918.04 182.45H919.94M919.94 179.75H921.84M923.49 173.98V181.08M921.59 179.75H923.49M923.49 174.38H925.39M927.04 170.37V174.88M925.14 174.38H927.04M927.04 171.18H928.94M930.59 165.72V173.33M928.69 171.18H930.59M930.59 167.05H932.49M934.14 164.69V171.27M932.24 167.05H934.14M934.14 170.87H936.04M937.69 170.37V176.95M935.79 170.87H937.69M937.69 175.93H939.59M941.24 172.95V179.53M939.34 175.93H941.24M941.24 178.72H943.14M944.78 176.57V183.14M942.88 178.72H944.78M944.78 182.64H946.68M948.33 181.73V187.79M946.43 182.64H948.33M948.33 186.22H950.23M951.88 180.18V186.24M949.98 186.04H951.88M951.88 182.17H953.78M955.43 182.25V191.41M953.53 182.45H955.43M955.43 190.28H957.33M958.98 186.89V190.37M957.08 190.17H958.98M958.98 187.40H960.88M962.53 183.79V188.31M960.63 187.40H962.53M962.53 184.19H964.43M966.08 177.60V184.69M964.18 184.19H966.08M966.08 179.02H967.98M969.63 177.60V185.73M967.73 179.02H969.63M969.63 184.10H971.53M973.18 177.08V184.69M971.28 184.10H973.18M973.18 178.60H975.08M976.73 177.60V192.44M974.83 178.60H976.73M976.73 191.21H978.63M980.27 187.41V192.96M978.38 191.21H980.27M980.27 188.52H982.17M983.82 185.34V192.96M981.92 188.52H983.82M983.82 191.43H985.72M987.37 186.38V192.96M985.47 191.43H987.37M987.37 187.50H989.27M990.92 187.41V190.89M989.02 187.61H990.92M990.92 190.39H992.82M994.47 189.47V193.99M992.57 190.39H994.47M994.47 191.90H996.37M998.02 185.34V191.41M996.12 191.21H998.02M998.02 186.56H999.92M1001.57 185.34V192.96M999.67 186.56H1001.57M1001.57 191.43H1003.47M1005.12 185.34V191.92M1003.22 191.43H1005.12M1005.12 187.43H1007.02M1008.67 187.41V196.05M1006.77 187.61H1008.67M1008.67 191.90H1010.57M1012.22 181.21V191.92M1010.32 191.72H1012.22M1012.22 182.13H1014.12M1015.76 171.92V184.69M1013.87 182.13H1015.76M1015.76 173.98H1017.66M1019.31 173.63V178.66M1017.41 173.98H1019.31M1019.31 178.05H1021.21M1022.86 176.73V180.73M1020.96 178.05H1022.86M1022.86 180.02H1024.76M1026.41 178.28V189.50M1024.51 180.02H1026.41M1026.41 186.47H1028.31M1029.96 181.38V186.92M1028.06 186.47H1029.96M1029.96 182.09H1031.86M1033.51 176.73V183.82M1031.61 182.09H1033.51M1033.51 178.15H1035.41M1037.06 177.25V182.79M1035.16 178.15H1037.06M1037.06 181.68H1038.96M1040.61 177.76V186.41M1038.71 181.68H1040.61M1040.61 185.08H1042.51M1044.16 180.86V186.92M1042.26 185.08H1044.16M1044.16 182.07H1046.06M1047.71 179.83V187.96M1045.81 182.07H1047.71M1047.71 185.56H1049.61M1051.25 178.79V185.89M1049.35 185.56H1051.25M1051.25 180.02H1053.15M1054.80 178.28V183.82M1052.90 180.02H1054.80M1054.80 181.94H1056.70M1058.35 176.21V181.76M1056.45 181.56H1058.35M1058.35 177.32H1060.25M1061.90 176.73V184.34M1060.00 177.32H1061.90M1061.90 179.15H1063.80M1065.45 171.05V178.66M1063.55 178.46H1065.45M1065.45 171.76H1067.35M1069.00 161.75V173.50M1067.10 171.76H1069.00M1069.00 162.67H1070.90M1072.55 160.52V165.23M1070.65 162.67H1072.55M1072.55 164.32H1074.45M1076.10 161.75V167.82M1074.20 164.32H1076.10M1076.10 166.60H1078.00M1079.65 161.75V168.33M1077.75 166.60H1079.65M1079.65 164.26H1081.55M1083.20 164.34V169.88M1081.30 164.54H1083.20M1083.20 168.77H1085.10M1086.74 162.79V169.88M1084.84 168.77H1086.74M1086.74 164.01H1088.64M1090.29 160.72V167.82M1088.39 164.01H1090.29M1090.29 166.40H1092.19M1093.84 161.55V166.78M1091.94 166.40H1093.84M1093.84 164.36H1095.74M1097.39 164.85V168.33M1095.49 165.05H1097.39M1097.39 166.90H1099.29" stroke="#00aeef" stroke-width="2.5" fill="none" stroke-linecap="round"/>
<text x="6.5" y="15.1" font-size="13" font-weight="bold" fill="#ffffff">eMini S&amp;P 500 (CME) Continuous</text>
<text x="6.5" y="30.8" font-size="11" fill="#f2f2f2" textLength="192.3" lengthAdjust="spacingAndGlyphs">6700.50 141.50 2.16% 11:10:13 VWAP:</text>
<text x="1129.3" y="15.1" font-size="13" font-weight="bold" fill="#ffffff" text-anchor="end">1 Minute</text>
<text x="1129.5" y="31" font-size="11" fill="#f2f2f2" text-anchor="end">High: 6748.00 Low: 6490.00 Chg: 0.99%</text>
<rect x="4" y="36.1" width="228" height="12.8" fill="#303030"/>
<path d="M14.1 39.4V46.8M14.1 42.5H17.6" stroke="#00aeef" stroke-width="2.8" fill="none" stroke-linecap="round"/>
<text x="30" y="46.6" font-size="11" fill="#f2f2f2" textLength="199.4" lengthAdjust="spacingAndGlyphs">eMini S&amp;P 500 (CME) Continuous - Price</text>
<rect x="4" y="522" width="240" height="12" fill="#303030"/>
<path d="M14.6 523.8H17.2V527.6H19.2V533H12.6V527.6H14.6Z" fill="#00aeef"/>
<text x="30" y="532.2" font-size="11" fill="#f2f2f2" textLength="211.3" lengthAdjust="spacingAndGlyphs">eMini S&amp;P 500 (CME) Continuous - Volume</text>
<text x="1144.2" y="39.0" font-size="11" fill="#e6e6e6">6,800</text>
<text x="1144.2" y="105.0" font-size="11" fill="#e6e6e6">6,750</text>
<text x="1144.2" y="236.0" font-size="11" fill="#e6e6e6">6,650</text>
<text x="1144.2" y="303.0" font-size="11" fill="#e6e6e6">6,600</text>
<text x="1144.2" y="369.0" font-size="11" fill="#e6e6e6">6,550</text>
<text x="1144.2" y="437.0" font-size="11" fill="#e6e6e6">6,500</text>
<text x="1144.2" y="504.0" font-size="11" fill="#e6e6e6">6,450</text>
<text x="1144.2" y="524.0" font-size="11" fill="#e6e6e6">20,000</text>
<text x="1144.2" y="554.0" font-size="11" fill="#e6e6e6">15,000</text>
<text x="1144.2" y="584.0" font-size="11" fill="#e6e6e6">10,000</text>
<text x="1144.2" y="613.0" font-size="11" fill="#e6e6e6">5,000</text>
<text x="1144.2" y="644.2" font-size="11" fill="#e6e6e6">0</text>
<text x="208.8" y="657.8" font-size="11" fill="#e6e6e6" text-anchor="middle">7:00am</text>
<text x="421.4" y="657.8" font-size="11" fill="#e6e6e6" text-anchor="middle">8:00am</text>
<text x="634.2" y="657.8" font-size="11" fill="#e6e6e6" text-anchor="middle">9:00am</text>
<text x="846.3" y="657.8" font-size="11" fill="#e6e6e6" text-anchor="middle">10:00am</text>
<text x="1060.5" y="657.8" font-size="11" fill="#e6e6e6" text-anchor="middle">11:00am</text>
<text x="1099" y="673.2" font-size="11" fill="#e6e6e6" text-anchor="middle">3/23</text>
<path d="M1132.9 167.1L1140.8 159.2H1185.3V174.8H1140.8Z" fill="#00aeef"/>
<text x="1142.4" y="170.3" font-size="11" fill="#000" stroke="#000" stroke-width="0.25">6700.50</text>
<path d="M1132.9 633.4L1140.8 625.7H1179V641H1140.8Z" fill="#00aeef"/>
<text x="1142.7" y="637.3" font-size="11" fill="#000" stroke="#000" stroke-width="0.25">924.00</text>
<rect x="13.1" y="541.5" width="109.5" height="57.8" fill="none" stroke="#5c5c60" stroke-width="1"/>
<text x="21.8" y="557.0" font-size="12" font-weight="bold" fill="#ff0000" textLength="90.6" lengthAdjust="spacingAndGlyphs">Volume spike in</text>
<text x="16.6" y="575.2" font-size="12" font-weight="bold" fill="#ff0000" textLength="102.6" lengthAdjust="spacingAndGlyphs">S&amp;P 500 futures at</text>
<text x="39.7" y="593.1" font-size="12" font-weight="bold" fill="#ff0000" textLength="54.6" lengthAdjust="spacingAndGlyphs">6:50amET</text>
<polygon points="129.5,586.3 164.3,605.8 166.6,601.6 174.2,613.0 160.5,612.5 162.9,608.3 128.1,588.8" fill="none" stroke="#ff0000" stroke-width="1.9" stroke-linejoin="miter"/>
</svg></body></html>
